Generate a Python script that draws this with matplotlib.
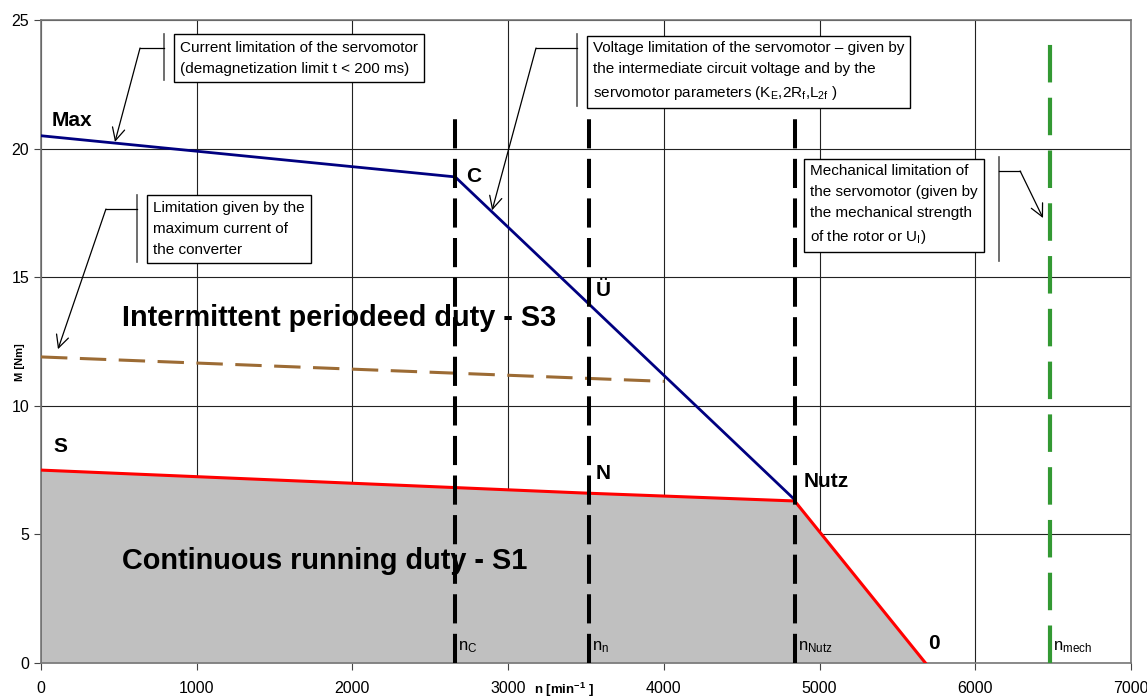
import matplotlib
matplotlib.use("Agg")
import matplotlib.pyplot as plt

plt.rcParams['font.family'] = ['Liberation Sans', 'DejaVu Sans']
plt.rcParams['mathtext.fontset'] = 'custom'
plt.rcParams['mathtext.rm'] = 'Liberation Sans'
plt.rcParams['mathtext.it'] = 'Liberation Sans:italic'
plt.rcParams['mathtext.bf'] = 'Liberation Sans:bold'
plt.rcParams['lines.scale_dashes'] = False

# speed points [min^-1]
n_c = 2660
n_n = 3520
n_nutz = 4840
n_zero = 5680
n_mech = 6480

# peak torque curve (Max - C - Ü - Nutz)
max_x = [0, n_c, n_n, n_nutz]
max_y = [20.5, 18.9, 13.95, 6.35]

# continuous torque curve (S - N - Nutz - 0)
s1_x = [0, n_n, n_nutz, n_zero]
s1_y = [7.5, 6.6, 6.3, 0]

# converter current limit
conv_x = [0, 4000]
conv_y = [11.9, 10.95]

# vertical markers
vlines_x = [n_c, n_n, n_nutz]
vline_top = 21.2
mech_top = 24.1

point_labels = [("Max", 70, 21.1), ("C", 2730, 18.9), ("Ü", 3560, 14.5),
                ("N", 3560, 7.35), ("Nutz", 4900, 7.05), ("S", 80, 8.4),
                ("0", 5700, 0.75)]
speed_labels = [(r"n$_{\mathrm{C}}$", n_c), (r"n$_{\mathrm{n}}$", n_n),
                (r"n$_{\mathrm{Nutz}}$", n_nutz), (r"n$_{\mathrm{mech}}$", n_mech)]

# callouts: text, text pos, bar x, bar y range, elbow point, arrow target
callouts = [
    ("Current limitation of the servomotor\n(demagnetization limit t < 200 ms)",
     (893, 24.2), 790, (24.46, 22.67), (636, 23.91), (475, 20.26)),
    ("Voltage limitation of the servomotor \u2013 given by\nthe intermediate circuit voltage and by the\n"
     r"servomotor parameters (K$_{\mathrm{E}}$,2R$_{\mathrm{f}}$,L$_{\mathrm{2f}}$ )",
     (3545, 24.2), 3443, (24.46, 21.66), (3179, 23.91), (2897, 17.6)),
    ("Limitation given by the\nmaximum current of\nthe converter",
     (719, 17.97), 617, (18.2, 15.59), (417, 17.65), (109, 12.2)),
    ("Mechanical limitation of\nthe servomotor (given by\nthe mechanical strength\n"
     r"of the rotor or U$_{\mathrm{I}}$)",
     (4939, 19.42), 6153, (19.67, 15.63), (6288, 19.13), (6435, 17.3)),
]

fig = plt.figure(figsize=(11.47, 6.97), dpi=100)
ax = fig.add_axes([41/1147, 1-663/697, 1090/1147, 643/697])

ax.set_xlim(0, 7000)
ax.set_ylim(0, 25)
ax.set_xticks(range(0, 7001, 1000))
ax.set_yticks(range(0, 26, 5))
ax.grid(True, color='#222222', lw=0.8, zorder=0)
ax.set_axisbelow(True)
for sp in ax.spines.values():
    sp.set_color('#777777')
    sp.set_linewidth(1.2)
ax.tick_params(direction='out', length=5, color='#444444', labelsize=11.5)
ax.tick_params(axis='x', pad=8)

ax.fill_between(s1_x, s1_y, 0, color='#C0C0C0', lw=0, zorder=1)
ax.plot(s1_x, s1_y, color='#FF0000', lw=2.2, zorder=4)
ax.plot(max_x, max_y, color='#000080', lw=2, zorder=4)
ax.plot(conv_x, conv_y, color='#9C6B34', lw=2.2, dashes=(19, 9), zorder=4)

for x in vlines_x:
    ax.plot([x, x], [0, vline_top], color='black', lw=2.9, dashes=(21, 7.5), zorder=5)
ax.plot([n_mech, n_mech], [0, mech_top], color='#339933', lw=3, dashes=(27, 11), zorder=5)

for txt, x, y in point_labels:
    ax.text(x, y, txt, fontsize=15, fontweight='bold', ha='left', va='center', zorder=6)
for txt, x in speed_labels:
    ax.text(x + 20, 0.6, txt, fontsize=12, ha='left', va='center', zorder=6)

ax.text(520, 13.4, "Intermittent periodeed duty - S3", fontsize=20.8,
        fontweight='bold', ha='left', va='center', zorder=6)
ax.text(520, 3.95, "Continuous running duty - S1", fontsize=20.8,
        fontweight='bold', ha='left', va='center', zorder=6)

for txt, (tx, ty), bx, (by0, by1), (ex, ey), (ax_, ay) in callouts:
    ax.text(tx, ty, txt, fontsize=11, ha='left', va='top', linespacing=1.65, zorder=7,
            bbox=dict(boxstyle='square,pad=0.4', fc='white', ec='black', lw=1))
    ax.plot([bx, bx], [by0, by1], color='#555555', lw=1.2, zorder=7)
    ax.plot([bx, ex], [ey, ey], color='black', lw=0.9, zorder=7)
    ax.annotate("", xy=(ax_, ay), xytext=(ex, ey), zorder=7,
                arrowprops=dict(arrowstyle='->,head_length=0.9,head_width=0.45',
                                color='black', lw=0.9, shrinkA=0, shrinkB=0))

ax.text(-0.019, 0.468, "M [Nm]", transform=ax.transAxes, rotation=90,
        fontsize=8, fontweight='bold', ha='center', va='center')
ax.text((564-41)/1090, -0.028, r"n [min$^{\mathbf{-1}}$ ]", transform=ax.transAxes,
        fontsize=9.5, fontweight='bold', ha='center', va='top')

fig.savefig("out.png", dpi=100)
